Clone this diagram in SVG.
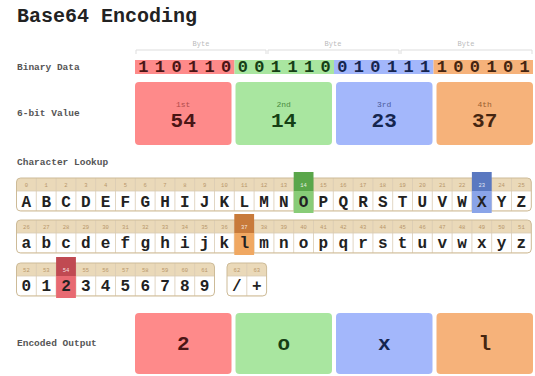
<svg xmlns="http://www.w3.org/2000/svg" width="535" height="376" viewBox="0 0 535 376">
<style>
.title{font-family:"Liberation Mono",monospace;font-weight:bold;font-size:20px;fill:#222}
.lbl{font-family:"Liberation Mono",monospace;font-weight:bold;font-size:9.5px;fill:#555}
.byte{font-family:"Liberation Mono",monospace;font-size:7px;fill:#bbb;text-anchor:middle}
.bit{font-family:"Liberation Mono",monospace;font-weight:bold;font-size:17px;text-anchor:middle}
.ord{font-family:"Liberation Mono",monospace;font-size:8px;text-anchor:middle}
.val{font-family:"Liberation Mono",monospace;font-weight:bold;font-size:21px;text-anchor:middle}
.idx{font-family:"Liberation Mono",monospace;font-size:5.5px;fill:#b8966a;text-anchor:middle}
.idxh{font-family:"Liberation Mono",monospace;font-size:5.5px;fill:#fff;fill-opacity:.85;text-anchor:middle}
.ch{font-family:"Liberation Mono",monospace;font-weight:bold;font-size:16px;fill:#222;text-anchor:middle}
.strip{fill:#ead9b9}
.cell{fill:#fff}
.frame{fill:none;stroke:#cdbb98;stroke-width:1}
.sep{stroke:#d9ccb4;stroke-width:.8;fill:none}
.r{fill:#fe8a8a}.g{fill:#a9e6a0}.b{fill:#a3b7fb}.o{fill:#f6b27a}
</style>
<rect width="535" height="376" fill="#fff"/>
<g id="title"><text class="title" x="17" y="22">Base64 Encoding</text></g>

<g id="binary-data">
<text class="lbl" x="17" y="70">Binary Data</text>
<path d="M136,54V50H266V54M268,54V50H399V54M401,54V50H532V54" fill="none" stroke="#ddd" stroke-width="1"/>
<text class="byte" x="201" y="46">Byte</text>
<text class="byte" x="333" y="46">Byte</text>
<text class="byte" x="466" y="46">Byte</text>
<rect class="r" x="135" y="60" width="99.5" height="14"/>
<rect class="g" x="234.5" y="60" width="99.5" height="14"/>
<rect class="b" x="334" y="60" width="99.5" height="14"/>
<rect class="o" x="433.5" y="60" width="99.5" height="14"/>
<text class="bit" fill="#4a1515" x="143.3 159.9 176.5 193.0 209.6 226.2" y="72">110110</text>
<text class="bit" fill="#153f15" x="242.8 259.4 275.9 292.5 309.1 325.7" y="72">001110</text>
<text class="bit" fill="#15254f" x="342.3 358.9 375.4 392.0 408.6 425.2" y="72">010111</text>
<text class="bit" fill="#452510" x="441.8 458.3 474.9 491.5 508.1 524.7" y="72">100101</text>
</g>

<g id="six-bit-values">
<text class="lbl" x="17" y="116">6-bit Value</text>
<g id="v1"><rect class="r" x="135" y="82" width="96.5" height="63" rx="4"/><text class="ord" fill="#b04a4a" x="183.2" y="107">1st</text><text class="val" fill="#4a1515" x="183.2" y="127">54</text></g>
<g id="v2"><rect class="g" x="235.5" y="82" width="96.5" height="63" rx="4"/><text class="ord" fill="#4a8a40" x="283.7" y="107">2nd</text><text class="val" fill="#153f15" x="283.7" y="127">14</text></g>
<g id="v3"><rect class="b" x="336" y="82" width="96.5" height="63" rx="4"/><text class="ord" fill="#4a5a9a" x="384.2" y="107">3rd</text><text class="val" fill="#15254f" x="384.2" y="127">23</text></g>
<g id="v4"><rect class="o" x="436.5" y="82" width="96.5" height="63" rx="4"/><text class="ord" fill="#9a6030" x="484.7" y="107">4th</text><text class="val" fill="#452510" x="484.7" y="127">37</text></g>
</g>

<g id="lookup">
<text class="lbl" x="17" y="165">Character Lookup</text>

<g id="row-upper">
<rect class="strip" x="16.5" y="178" width="514.8" height="33" rx="4"/>
<rect class="cell" x="16.5" y="191" width="514.8" height="19.5"/>
<path class="sep" d="M36.3,178V211M56.1,178V211M75.9,178V211M95.7,178V211M115.5,178V211M135.3,178V211M155.1,178V211M174.9,178V211M194.7,178V211M214.5,178V211M234.3,178V211M254.1,178V211M273.9,178V211M293.7,178V211M313.5,178V211M333.3,178V211M353.1,178V211M372.9,178V211M392.7,178V211M412.5,178V211M432.3,178V211M452.1,178V211M471.9,178V211M491.7,178V211M511.5,178V211M16.5,191H531.3"/>
<rect class="frame" x="16.5" y="178" width="514.8" height="33" rx="4"/>
<rect x="293.7" y="172" width="19.8" height="19" fill="#5aa64a"/>
<rect x="293.7" y="191" width="19.8" height="22" fill="#88cc78"/>
<rect x="471.9" y="172" width="19.8" height="19" fill="#5a78c0"/>
<rect x="471.9" y="191" width="19.8" height="22" fill="#8aa4e8"/>
<text class="idx" y="187" x="26.4 46.2 66.0 85.8 105.6 125.4 145.2 165.0 184.8 204.6">0123456789</text>
<text class="idx" y="187" x="224.4">10</text><text class="idx" y="187" x="244.2">11</text><text class="idx" y="187" x="264.0">12</text><text class="idx" y="187" x="283.8">13</text><text class="idxh" y="187" x="303.6">14</text><text class="idx" y="187" x="323.4">15</text><text class="idx" y="187" x="343.2">16</text><text class="idx" y="187" x="363.0">17</text><text class="idx" y="187" x="382.8">18</text><text class="idx" y="187" x="402.6">19</text><text class="idx" y="187" x="422.4">20</text><text class="idx" y="187" x="442.2">21</text><text class="idx" y="187" x="462.0">22</text><text class="idxh" y="187" x="481.8">23</text><text class="idx" y="187" x="501.6">24</text><text class="idx" y="187" x="521.4">25</text>
<text class="ch" y="206.5" x="26.4 46.2 66.0 85.8 105.6 125.4 145.2 165.0 184.8 204.6 224.4 244.2 264.0 283.8 303.6 323.4 343.2 363.0 382.8 402.6 422.4 442.2 462.0 481.8 501.6 521.4">ABCDEFGHIJKLMNOPQRSTUVWXYZ</text>
</g>

<g id="row-lower">
<rect class="strip" x="16.5" y="220" width="514.8" height="33" rx="4"/>
<rect class="cell" x="16.5" y="233" width="514.8" height="19.5"/>
<path class="sep" d="M36.3,220V253M56.1,220V253M75.9,220V253M95.7,220V253M115.5,220V253M135.3,220V253M155.1,220V253M174.9,220V253M194.7,220V253M214.5,220V253M234.3,220V253M254.1,220V253M273.9,220V253M293.7,220V253M313.5,220V253M333.3,220V253M353.1,220V253M372.9,220V253M392.7,220V253M412.5,220V253M432.3,220V253M452.1,220V253M471.9,220V253M491.7,220V253M511.5,220V253M16.5,233H531.3"/>
<rect class="frame" x="16.5" y="220" width="514.8" height="33" rx="4"/>
<rect x="234.3" y="214" width="19.8" height="19" fill="#c87a3a"/>
<rect x="234.3" y="233" width="19.8" height="22" fill="#f0a862"/>
<text class="idx" y="229" x="26.4">26</text><text class="idx" y="229" x="46.2">27</text><text class="idx" y="229" x="66.0">28</text><text class="idx" y="229" x="85.8">29</text><text class="idx" y="229" x="105.6">30</text><text class="idx" y="229" x="125.4">31</text><text class="idx" y="229" x="145.2">32</text><text class="idx" y="229" x="165.0">33</text><text class="idx" y="229" x="184.8">34</text><text class="idx" y="229" x="204.6">35</text><text class="idx" y="229" x="224.4">36</text><text class="idxh" y="229" x="244.2">37</text><text class="idx" y="229" x="264.0">38</text><text class="idx" y="229" x="283.8">39</text><text class="idx" y="229" x="303.6">40</text><text class="idx" y="229" x="323.4">41</text><text class="idx" y="229" x="343.2">42</text><text class="idx" y="229" x="363.0">43</text><text class="idx" y="229" x="382.8">44</text><text class="idx" y="229" x="402.6">45</text><text class="idx" y="229" x="422.4">46</text><text class="idx" y="229" x="442.2">47</text><text class="idx" y="229" x="462.0">48</text><text class="idx" y="229" x="481.8">49</text><text class="idx" y="229" x="501.6">50</text><text class="idx" y="229" x="521.4">51</text>
<text class="ch" y="247.5" x="26.4 46.2 66.0 85.8 105.6 125.4 145.2 165.0 184.8 204.6 224.4 244.2 264.0 283.8 303.6 323.4 343.2 363.0 382.8 402.6 422.4 442.2 462.0 481.8 501.6 521.4">abcdefghijklmnopqrstuvwxyz</text>
</g>

<g id="row-digits">
<rect class="strip" x="16.5" y="263" width="198" height="33" rx="4"/>
<rect class="cell" x="16.5" y="276" width="198" height="19.5"/>
<path class="sep" d="M36.3,263V296M56.1,263V296M75.9,263V296M95.7,263V296M115.5,263V296M135.3,263V296M155.1,263V296M174.9,263V296M194.7,263V296M16.5,276H214.5"/>
<rect class="frame" x="16.5" y="263" width="198" height="33" rx="4"/>
<rect x="56.1" y="257" width="19.8" height="19" fill="#c04a52"/>
<rect x="56.1" y="276" width="19.8" height="22" fill="#e86a72"/>
<text class="idx" y="272" x="26.4">52</text><text class="idx" y="272" x="46.2">53</text><text class="idxh" y="272" x="66.0">54</text><text class="idx" y="272" x="85.8">55</text><text class="idx" y="272" x="105.6">56</text><text class="idx" y="272" x="125.4">57</text><text class="idx" y="272" x="145.2">58</text><text class="idx" y="272" x="165.0">59</text><text class="idx" y="272" x="184.8">60</text><text class="idx" y="272" x="204.6">61</text>
<text class="ch" y="291" x="26.4 46.2 66.0 85.8 105.6 125.4 145.2 165.0 184.8 204.6">0123456789</text>
</g>

<g id="row-symbols">
<rect class="strip" x="227" y="263" width="39.6" height="33" rx="4"/>
<rect class="cell" x="227" y="276" width="39.6" height="19.5"/>
<path class="sep" d="M246.8,263V296M227,276H266.6"/>
<rect class="frame" x="227" y="263" width="39.6" height="33" rx="4"/>
<text class="idx" y="272" x="236.9">62</text><text class="idx" y="272" x="256.7">63</text>
<text class="ch" y="291" x="236.9 256.7">/+</text>
</g>
</g>

<g id="encoded-output">
<text class="lbl" x="17" y="346">Encoded Output</text>
<g id="e1"><rect class="r" x="135" y="313" width="96.5" height="61" rx="4"/><text class="val" fill="#4a1515" x="183.2" y="350">2</text></g>
<g id="e2"><rect class="g" x="235.5" y="313" width="96.5" height="61" rx="4"/><text class="val" fill="#153f15" x="283.7" y="350">o</text></g>
<g id="e3"><rect class="b" x="336" y="313" width="96.5" height="61" rx="4"/><text class="val" fill="#15254f" x="384.2" y="350">x</text></g>
<g id="e4"><rect class="o" x="436.5" y="313" width="96.5" height="61" rx="4"/><text class="val" fill="#452510" x="484.7" y="350">l</text></g>
</g>
<g id="connectors"/>
</svg>
